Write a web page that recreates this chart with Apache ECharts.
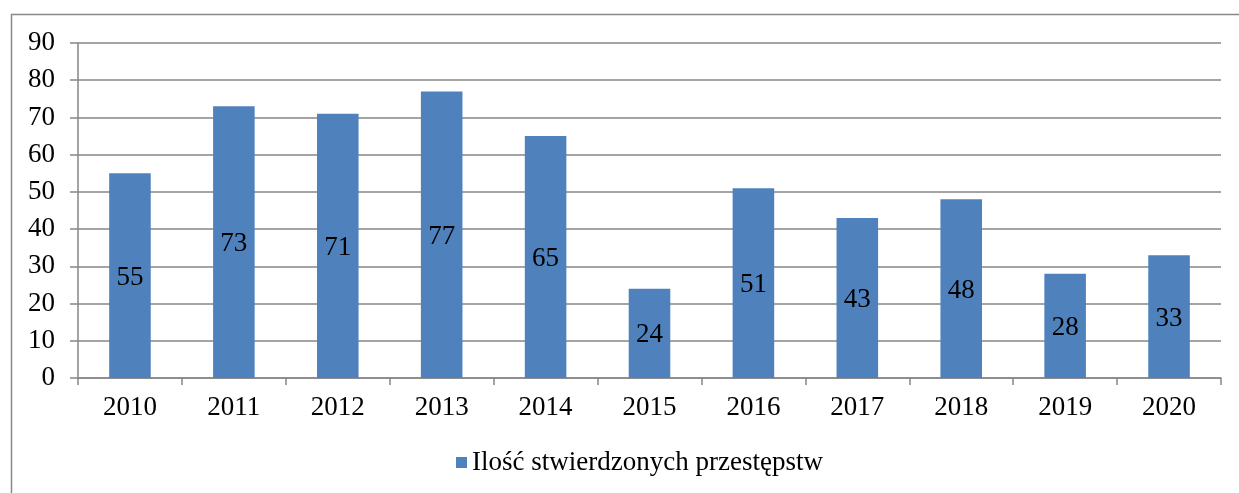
<!DOCTYPE html>
<html>
<head>
<meta charset="utf-8">
<script src="https://cdn.jsdelivr.net/npm/echarts@6/dist/echarts.min.js"></script>
<style>
html,body{margin:0;padding:0;background:#fff;}
#chart{width:1239px;height:493px;}
</style>
</head>
<body>
<div id="chart"></div>
<script>
var years = ['2010','2011','2012','2013','2014','2015','2016','2017','2018','2019','2020'];
var przestepstwa = [55, 73, 71, 77, 65, 24, 51, 43, 48, 28, 33];
var seriesName = 'Ilość stwierdzonych przestępstw';

var myChart = echarts.init(document.getElementById('chart'));
var font = '"Liberation Serif", "Times New Roman", serif';
var option = {
	animation: false,
	textStyle: { fontFamily: font },
	graphic: [
		{
			type: 'rect',
			shape: { x: 11.5, y: 14.5, width: 1260, height: 520 },
			style: { fill: 'none', stroke: '#888', lineWidth: 1.5 },
			silent: true
		}
	],
	grid: {
		left: 78,
		right: 18,
		top: 43,
		bottom: 115
	},
	legend: {
		bottom: 12,
		left: 451,
		itemWidth: 11,
		itemHeight: 11,
		itemGap: 6,
		icon: 'rect',
		textStyle: { fontFamily: font, fontSize: 27, color: '#000' },
		data: [seriesName]
	},
	xAxis: {
		type: 'category',
		data: years,
		axisLine: { lineStyle: { color: '#868686', width: 1.5 } },
		axisTick: { show: true, length: 7, lineStyle: { color: '#868686', width: 1.5 } },
		axisLabel: { color: '#000', fontSize: 27, fontFamily: font, margin: 16 }
	},
	yAxis: {
		type: 'value',
		min: 0,
		max: 90,
		interval: 10,
		axisLine: { show: true, lineStyle: { color: '#868686', width: 1.5 } },
		axisTick: { show: true, length: 8, lineStyle: { color: '#868686', width: 1.5 } },
		axisLabel: { color: '#000', fontSize: 27, fontFamily: font, margin: 23 },
		splitLine: { lineStyle: { color: '#868686', width: 1.5 } }
	},
	series: [
		{
			name: seriesName,
			type: 'bar',
			barWidth: '40%',
			data: przestepstwa,
			itemStyle: { color: '#4F81BD' },
			label: {
				show: true,
				position: 'inside',
				offset: [0, 2],
				color: '#000',
				fontSize: 27,
				fontFamily: font
			}
		}
	]
};
myChart.setOption(option, true);
</script>
</body>
</html>
